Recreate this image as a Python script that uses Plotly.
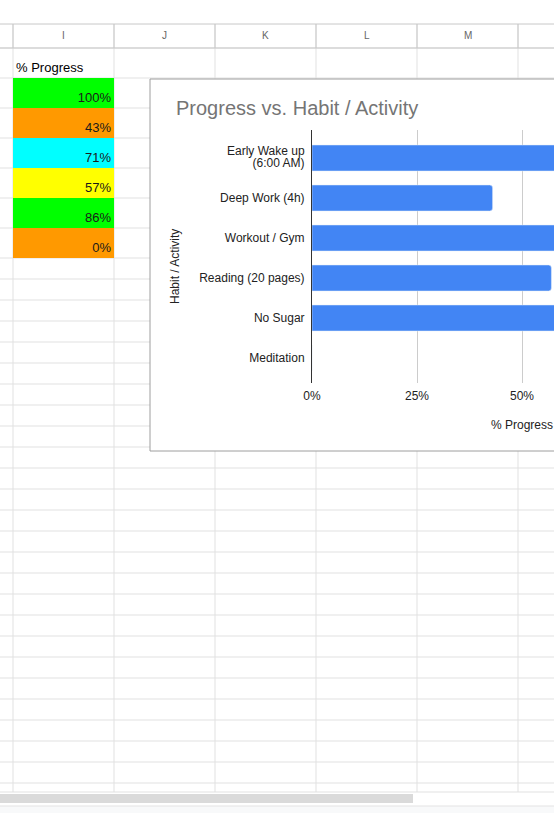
import plotly.graph_objects as go

# Data from the sheet
habits = ["Early Wake up (6:00 AM)", "Deep Work (4h)", "Workout / Gym",
          "Reading (20 pages)", "No Sugar", "Meditation"]
progress = [1.00, 0.43, 0.71, 0.57, 0.86, 0.00]
cell_colors = ["#00ff00", "#ff9900", "#00ffff", "#ffff00", "#00ff00", "#ff9900"]
col_letters = ["I", "J", "K", "L", "M"]
x_ticks = [0, 0.25, 0.5, 0.75, 1.0]

W, H = 554, 813
FONT = "Arial, Liberation Sans, sans-serif"

# the photo maps page x to 9 + 545/554 * x, so positions are given in photo pixels
X0, XW = 9, 545


def px(x):
    return (x - X0) / XW


def py(y):
    return 1 - y / H


fig = go.Figure()

# Spreadsheet grid
shapes = []
col_edges = [13, 114, 215, 316, 417, 518]
row_edges = [48, 78, 108, 138, 168, 198, 228, 258] + [258 + 21 * k for k in range(1, 26)]
grid = "#e1e1e1"
for x in col_edges:
    shapes.append(dict(type="line", xref="paper", yref="paper", x0=px(x), x1=px(x),
                       y0=py(24), y1=py(792), line=dict(color=grid, width=1), layer="below"))
for y in row_edges:
    shapes.append(dict(type="line", xref="paper", yref="paper", x0=px(0), x1=1,
                       y0=py(y), y1=py(y), line=dict(color=grid, width=1), layer="below"))
# header borders
for y in [24, 48]:
    shapes.append(dict(type="line", xref="paper", yref="paper", x0=px(0), x1=1,
                       y0=py(y), y1=py(y), line=dict(color="#c8c8c8", width=1), layer="below"))
for x in col_edges:
    shapes.append(dict(type="line", xref="paper", yref="paper", x0=px(x), x1=px(x),
                       y0=py(24), y1=py(48), line=dict(color="#c8c8c8", width=1), layer="below"))
shapes.append(dict(type="line", xref="paper", yref="paper", x0=px(0), x1=1,
                   y0=py(792), y1=py(792), line=dict(color="#e1e1e1", width=1), layer="below"))

# Chart box
shapes.append(dict(type="rect", xref="paper", yref="paper", x0=px(150), x1=px(620),
                   y0=py(451), y1=py(79), fillcolor="white",
                   line=dict(color="#9e9e9e", width=1), layer="below"))

# Scrollbar
shapes.append(dict(type="rect", xref="paper", yref="paper", x0=px(0), x1=1,
                   y0=0, y1=py(806), fillcolor="#f8f9fa", line=dict(width=0), layer="below"))
shapes.append(dict(type="line", xref="paper", yref="paper", x0=px(0), x1=1,
                   y0=py(806), y1=py(806), line=dict(color="#e3e3e3", width=1), layer="below"))
shapes.append(dict(type="rect", xref="paper", yref="paper", x0=px(0), x1=px(413),
                   y0=py(803), y1=py(794), fillcolor="#dadada", line=dict(width=0), layer="below"))

# Coloured % Progress cells (column I)
rows = list(range(len(progress)))
fig.add_trace(go.Bar(
    x=[1] * len(rows), y=rows, base=0, width=1, orientation="h",
    marker=dict(color=cell_colors, line=dict(width=0)),
    xaxis="x2", yaxis="y2", hoverinfo="skip",
))
fig.add_trace(go.Scatter(
    x=[0.97] * len(rows), y=[r + 0.2 for r in rows], mode="text",
    text=[f"{int(round(v * 100))}%" for v in progress], textposition="middle left",
    textfont=dict(family=FONT, size=13, color="#1a1a1a"),
    xaxis="x2", yaxis="y2", hoverinfo="skip",
))
fig.add_trace(go.Scatter(
    x=[0.03], y=[-1 + 0.2], mode="text", text=["% Progress"], textposition="middle right",
    textfont=dict(family=FONT, size=13, color="#000"),
    xaxis="x2", yaxis="y2", hoverinfo="skip",
))

# Bar chart
fig.add_trace(go.Bar(
    y=habits, x=progress, orientation="h",
    marker=dict(color="#4285f4", cornerradius=3),
    hovertemplate="%{y}: %{x:.0%}<extra></extra>",
))


def note(text, x, y, size=12, color="#222", xanchor="center", **kw):
    return dict(text=text, x=px(x), y=py(y), xref="paper", yref="paper", showarrow=False,
                xanchor=xanchor, yanchor="middle",
                font=dict(family=FONT, size=size, color=color), **kw)


annotations = []
for i, letter in enumerate(col_letters):
    annotations.append(note(letter, (col_edges[i] + col_edges[i + 1]) / 2, 36, size=10, color="#666"))
annotations.append(note("Progress vs. Habit / Activity", 174, 108, size=20, color="#757575",
                        xanchor="left"))
annotations.append(note("Habit / Activity", 175, 267, textangle=-90))
annotations.append(note("% Progress", 522, 425))
# two-line tick label with tight line spacing (small base size, 12px glyphs)
annotations.append(dict(
    text="<span style='font-size:12px'>Early Wake up</span><br>"
         "<span style='font-size:12px'>(6:00 AM)</span>",
    x=px(307), y=habits[0], xref="paper", yref="y", xanchor="right", yanchor="middle",
    align="right", yshift=1, showarrow=False,
    font=dict(family=FONT, size=9.5, color="#222")))

fig.update_layout(
    width=W, height=H,
    margin=dict(l=0, r=0, t=0, b=0),
    paper_bgcolor="white",
    plot_bgcolor="rgba(0,0,0,0)",
    showlegend=False,
    bargap=0.35,
    shapes=shapes,
    annotations=annotations,
    font=dict(family=FONT, size=12, color="#222"),
    xaxis=dict(domain=[px(312), 1], range=[0, (W - 312) / 420],
               tickvals=x_ticks, tickformat=".0%", showgrid=True, gridcolor="#cccccc",
               zeroline=False, showline=False, ticks="", fixedrange=True,
               ticklabelstandoff=4),
    yaxis=dict(domain=[py(383), py(130)], range=[5.625, -0.7], type="category",
               tickvals=habits, ticktext=[""] + habits[1:],
               showline=True, linecolor="#333", linewidth=1, ticks="",
               showgrid=False, ticklabelstandoff=4),
    xaxis2=dict(domain=[px(13), px(114)], range=[0, 1], visible=False, fixedrange=True),
    yaxis2=dict(domain=[py(258), py(48)], range=[5.5, -1.5], visible=False, fixedrange=True),
)

page_fix = ("document.documentElement.style.margin='0';"
            "document.documentElement.style.overflow='hidden';"
            "document.body.style.margin='0';"
            "document.body.style.overflow='hidden';")
fig.write_html("out.html", config={"displayModeBar": False}, post_script=page_fix)
